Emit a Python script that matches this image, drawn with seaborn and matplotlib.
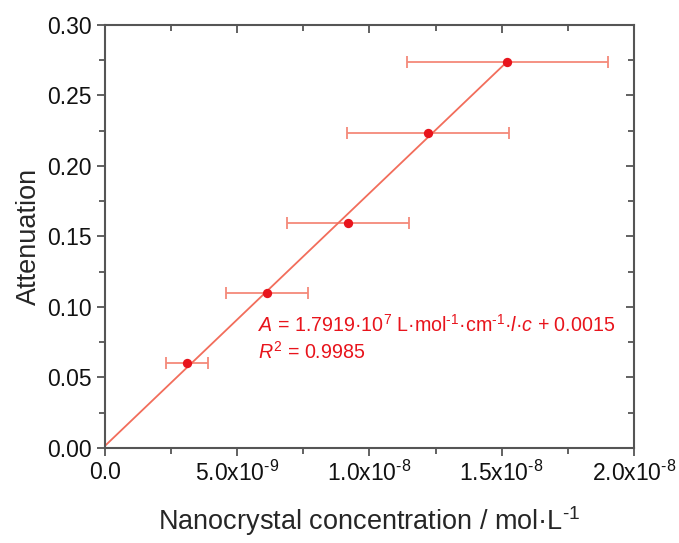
import numpy as np
import pandas as pd
import seaborn as sns
import matplotlib.pyplot as plt
import matplotlib.ticker as mticker

# data
conc = [3.10e-9, 6.12e-9, 9.19e-9, 12.21e-9, 15.20e-9]
atten = [0.0603, 0.110, 0.1596, 0.2234, 0.2738]
conc_err = [0.78e-9, 1.55e-9, 2.31e-9, 3.06e-9, 3.80e-9]

# linear fit line end points
fit_x = [0.0, 1.52e-8]
fit_y = [0.0015, 0.2739]

x_ticks = [0.0, 5e-9, 1e-8, 1.5e-8, 2e-8]
x_ticklabels = ['0.0', r'5.0x10$^{\text{-9}}$', r'1.0x10$^{\text{-8}}$',
                r'1.5x10$^{\text{-8}}$', r'2.0x10$^{\text{-8}}$']
y_ticks = [0.00, 0.05, 0.10, 0.15, 0.20, 0.25, 0.30]

sns.set_style('ticks')
plt.rcParams['font.family'] = ['Liberation Sans', 'DejaVu Sans']
plt.rcParams['mathtext.fontset'] = 'custom'
plt.rcParams['mathtext.rm'] = 'Liberation Sans'
plt.rcParams['mathtext.it'] = 'Liberation Sans:italic'
plt.rcParams['mathtext.default'] = 'regular'

df = pd.DataFrame({'conc': conc, 'atten': atten, 'err': conc_err})
fit = pd.DataFrame({'x': fit_x, 'y': fit_y})

red = '#e8141c'
salmon = '#f26d5b'
grey = '#555555'

fig, ax = plt.subplots(figsize=(6.79, 5.43), dpi=100)
fig.subplots_adjust(left=0.1546, right=0.9337, top=0.954, bottom=0.175)

sns.lineplot(data=fit, x='x', y='y', color=salmon, lw=1.3, ax=ax, zorder=2)
ax.errorbar(df.conc, df.atten, xerr=df.err, fmt='none', ecolor='#f4897a',
            elinewidth=1.3, capsize=4, capthick=1.3, zorder=1)
sns.scatterplot(data=df, x='conc', y='atten', color=red, s=45, edgecolor=red,
                linewidth=0, ax=ax, zorder=3)

ax.set_xlim(0, 2e-8)
ax.set_ylim(0, 0.30)
ax.set_xticks(x_ticks)
ax.set_xticklabels(x_ticklabels)
ax.set_yticks(y_ticks)
ax.yaxis.set_major_formatter(mticker.FormatStrFormatter('%.2f'))
ax.xaxis.set_minor_locator(mticker.MultipleLocator(2.5e-9))
ax.yaxis.set_minor_locator(mticker.MultipleLocator(0.025))

ax.set_xlabel(r'Nanocrystal concentration / mol·L$^{\text{-1}}$', fontsize=19.5, labelpad=13)
ax.set_ylabel('Attenuation', fontsize=19.5, labelpad=4)

for side in ['top', 'right', 'bottom', 'left']:
    ax.spines[side].set_color(grey)
    ax.spines[side].set_linewidth(1.5)

ax.tick_params(axis='both', which='major', labelsize=16.5, length=6, width=1.3,
               color=grey, labelcolor='#111111', direction='out')
ax.tick_params(axis='both', which='minor', length=4, width=1.3, color=grey,
               direction='out')

# mirrored inward ticks on top and right
secx = ax.secondary_xaxis('top')
secx.set_xticks(x_ticks)
secx.xaxis.set_minor_locator(mticker.MultipleLocator(2.5e-9))
secx.tick_params(which='major', direction='in', length=6, width=1.3, color=grey, labeltop=False)
secx.tick_params(which='minor', direction='in', length=4, width=1.3, color=grey)
secx.spines['top'].set_visible(False)
secy = ax.secondary_yaxis('right')
secy.set_yticks(y_ticks)
secy.yaxis.set_minor_locator(mticker.MultipleLocator(0.025))
secy.tick_params(which='major', direction='in', length=6, width=1.3, color=grey, labelright=False)
secy.tick_params(which='minor', direction='in', length=4, width=1.3, color=grey)
secy.spines['right'].set_visible(False)

ax.text(5.78e-9, 0.0872,
        r'$\mathit{A}$ = 1.7919·10$^{7}$ L·mol$^{\text{-1}}$·cm$^{\text{-1}}$·$\mathit{l}$·$\mathit{c}$ + 0.0015',
        color=red, fontsize=14.1, va='center', ha='left')
ax.text(5.78e-9, 0.068, r'$\mathit{R}^{2}$ = 0.9985',
        color=red, fontsize=14.1, va='center', ha='left')

fig.savefig('out.png', dpi=100)
